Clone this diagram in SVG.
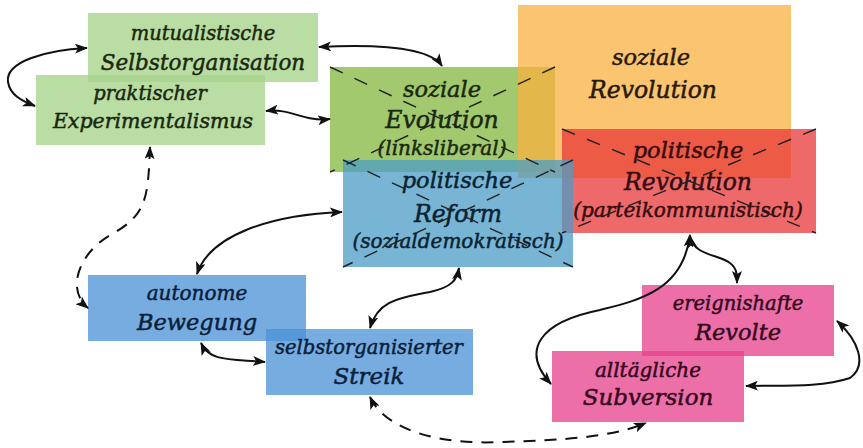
<svg xmlns="http://www.w3.org/2000/svg" width="863" height="448" viewBox="0 0 863 448">
<defs>
<marker id="ah" viewBox="0 0 13 10" refX="12" refY="5" markerWidth="13" markerHeight="10" markerUnits="userSpaceOnUse" orient="auto-start-reverse">
<path d="M0,0 L13,5 L0,10 L3,5 Z" fill="#111"/>
</marker>
</defs>
<style>
text{font-family:"DejaVu Serif","Liberation Serif",serif;font-style:italic;text-anchor:middle;stroke-width:0.5}
.s{font-size:19.5px}
.b{font-size:21.5px}
.m{font-size:22.5px}
.L{font-size:23.5px}
.p{font-size:20px}
.tg{fill:#1a2810;stroke:#1a2810}
.to{fill:#271a0a;stroke:#271a0a}
.tr{fill:#350c10;stroke:#350c10}
.tb{fill:#0b2232;stroke:#0b2232}
.tn{fill:#0a1f3a;stroke:#0a1f3a}
.tp{fill:#350820;stroke:#350820}
.lg{fill:#a8d48c;opacity:0.8}
.dg{fill:#8cbb4a;opacity:0.8}
.or{fill:#f9b040;opacity:0.75}
.rd{fill:#e83838;opacity:0.75}
.bl{fill:#4b9cc6;opacity:0.75}
.nb{fill:#4a90d6;opacity:0.75}
.pk{fill:#e5408a;opacity:0.75}
.x{stroke:#222;stroke-width:1.4;stroke-dasharray:14 13;fill:none}
.c{fill:none;stroke:#111;stroke-width:2;marker-start:url(#ah);marker-end:url(#ah)}
.d{stroke-dasharray:12 9}
</style>
<rect width="863" height="448" fill="#fff"/>

<g id="mutualistische">
<rect class="lg" x="88" y="13" width="230" height="69"/>
</g>
<g id="praktischer">
<rect class="lg" x="36" y="75" width="229" height="70"/>
</g>
<g id="soziale-evolution">
<rect class="dg" x="330" y="67" width="225" height="105"/>
</g>
<g id="soziale-revolution">
<rect class="or" x="518" y="5" width="273" height="173"/>
<text class="m to" x="651" y="65">soziale</text>
<text class="L to" x="653" y="98">Revolution</text>
</g>
<g id="politische-revolution">
<rect class="rd" x="562" y="129" width="254" height="104"/>
</g>
<g id="politische-reform">
<rect class="bl" x="343" y="160" width="230" height="107"/>
</g>

<g id="labels-top">
<text class="s tg" x="203" y="40">mutualistische</text>
<text class="b tg" x="203" y="70">Selbstorganisation</text>
<text class="s tg" x="150" y="100">praktischer</text>
<text class="b tg" x="153" y="128" style="font-size:20.5px">Experimentalismus</text>
<text class="m tg" x="442" y="97">soziale</text>
<text class="L tg" x="442" y="128">Evolution</text>
<text class="p tg" x="442" y="155">(linksliberal)</text>
<text class="m tr" x="688" y="158">politische</text>
<text class="L tr" x="688" y="190">Revolution</text>
<text class="p tr" x="688" y="217">(parteikommunistisch)</text>
<text class="m tb" x="457" y="188">politische</text>
<text class="L tb" x="458" y="222">Reform</text>
<text class="p tb" x="458" y="248">(sozialdemokratisch)</text>
</g>

<g id="crosses">
<path class="x" d="M330,67 L555,172 M555,67 L330,172"/>
<path class="x" d="M562,129 L816,233 M816,129 L562,233"/>
<path class="x" d="M343,160 L573,267 M573,160 L343,267"/>
</g>

<g id="autonome-bewegung">
<rect class="nb" x="88" y="275" width="218" height="66"/>
<text class="p tn" x="197" y="300">autonome</text>
<text class="b tn" x="197" y="330" style="font-size:22.5px">Bewegung</text>
</g>
<g id="streik">
<rect class="nb" x="266" y="329" width="207" height="66"/>
<text class="s tn" x="369" y="354">selbstorganisierter</text>
<text class="b tn" x="369" y="384" style="font-size:23px">Streik</text>
</g>
<g id="revolte">
<rect class="pk" x="642" y="285" width="192" height="71"/>
<text class="s tp" x="738" y="310">ereignishafte</text>
<text class="b tp" x="738" y="340" style="font-size:22.5px">Revolte</text>
</g>
<g id="subversion">
<rect class="pk" x="552" y="351" width="192" height="71"/>
<text class="p tp" x="648" y="377">alltägliche</text>
<text class="b tp" x="648" y="405" style="font-size:23px">Subversion</text>
</g>

<g id="connectors">
<path class="c" d="M87,48 C45,50 5,62 8,82 C10,95 22,101 35,106"/>
<path class="c" d="M319,47 C380,44 430,48 442,66"/>
<path class="c" d="M266,111 C292,108 302,122 330,119"/>
<path class="c d" d="M150,147 C148,200 146,215 112,234 C78,253 66,290 88,308"/>
<path class="c" d="M342,212 C270,215 210,235 197,274"/>
<path class="c" d="M201,343 C210,362 230,359 265,362"/>
<path class="c" d="M370,328 C378,300 400,298 430,292 C452,287 457,280 459,268"/>
<path class="c d" d="M370,397 C385,430 440,445 500,442 C560,440 610,438 646,423"/>
<path class="c" d="M690,235 C683,290 640,300 600,310 C540,322 520,350 551,384"/>
<path class="c" d="M690,236 C694,256 718,254 730,263 C737,268 737,275 737,283"/>
<path class="c" d="M837,321 C858,340 868,365 850,378 C820,388 780,385 746,386"/>
</g>
</svg>
